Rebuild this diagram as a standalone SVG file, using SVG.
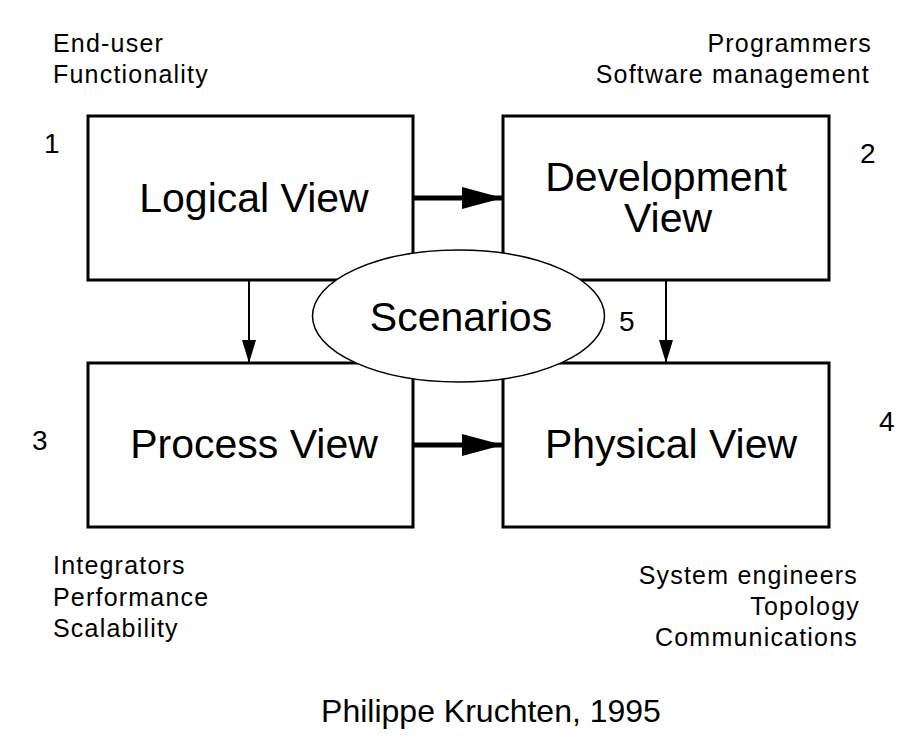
<svg xmlns="http://www.w3.org/2000/svg" width="909" height="739" viewBox="0 0 909 739">
<style>
.box{fill:#fff;stroke:#000;stroke-width:3}
.big{font-family:"Liberation Sans",Arial,sans-serif;font-size:41px;fill:#000;text-anchor:middle}
.sm{font-family:"Liberation Sans",Arial,sans-serif;font-size:25px;fill:#000;letter-spacing:1.2px}
.num{font-family:"Liberation Sans",Arial,sans-serif;font-size:28px;fill:#000}
.r{text-anchor:end}
</style>
<defs>
<marker id="bigHead" markerUnits="userSpaceOnUse" markerWidth="42" markerHeight="22" refX="41" refY="11" orient="auto"><path d="M0,0 L41,11 L0,22 Z" fill="#000"/></marker>
<marker id="smHead" markerUnits="userSpaceOnUse" markerWidth="24" markerHeight="14" refX="23" refY="7" orient="auto"><path d="M0,0 L23,7 L0,14 Z" fill="#000"/></marker>
</defs>
<rect width="909" height="739" fill="#fff"/>
<g id="logical"><rect class="box" x="88" y="116" width="325" height="164"/><text class="big" x="254" y="212">Logical View</text></g>
<g id="development"><rect class="box" x="503" y="116" width="326" height="164"/><text class="big"><tspan x="666" y="191">Development</tspan><tspan x="668" y="232">View</tspan></text></g>
<g id="process"><rect class="box" x="88" y="363" width="325" height="164"/><text class="big" x="254" y="458">Process View</text></g>
<g id="physical"><rect class="box" x="503" y="363" width="326" height="164"/><text class="big" x="671" y="458">Physical View</text></g>
<g id="connectors">
<line x1="413" y1="198" x2="503" y2="198" stroke="#000" stroke-width="5" marker-end="url(#bigHead)"/>
<line x1="413" y1="445" x2="503" y2="445" stroke="#000" stroke-width="5" marker-end="url(#bigHead)"/>
<line x1="249" y1="280" x2="249" y2="363" stroke="#000" stroke-width="2" marker-end="url(#smHead)"/>
<line x1="666" y1="280" x2="666" y2="363" stroke="#000" stroke-width="2" marker-end="url(#smHead)"/>
</g>
<g id="scenarios"><ellipse cx="458.5" cy="316" rx="146" ry="66" fill="#fff" stroke="#000" stroke-width="1.5"/><text class="big" x="461" y="331">Scenarios</text></g>
<g id="labels">
<text class="sm" x="53" y="52">End-user</text>
<text class="sm" x="53" y="83">Functionality</text>
<text class="sm r" x="872" y="52">Programmers</text>
<text class="sm r" x="870" y="83">Software management</text>
<text class="sm" x="53" y="574">Integrators</text>
<text class="sm" x="53" y="606">Performance</text>
<text class="sm" x="53" y="637">Scalability</text>
<text class="sm r" x="858" y="584">System engineers</text>
<text class="sm r" x="860" y="615">Topology</text>
<text class="sm r" x="858" y="646">Communications</text>
<text class="num" x="44" y="153">1</text>
<text class="num" x="860" y="163">2</text>
<text class="num" x="32" y="450">3</text>
<text class="num" x="879" y="431">4</text>
<text class="num" x="619" y="331">5</text>
<text font-family="Liberation Sans,Arial,sans-serif" font-size="32" x="491" y="722" text-anchor="middle" fill="#000">Philippe Kruchten, 1995</text>
</g>
</svg>
